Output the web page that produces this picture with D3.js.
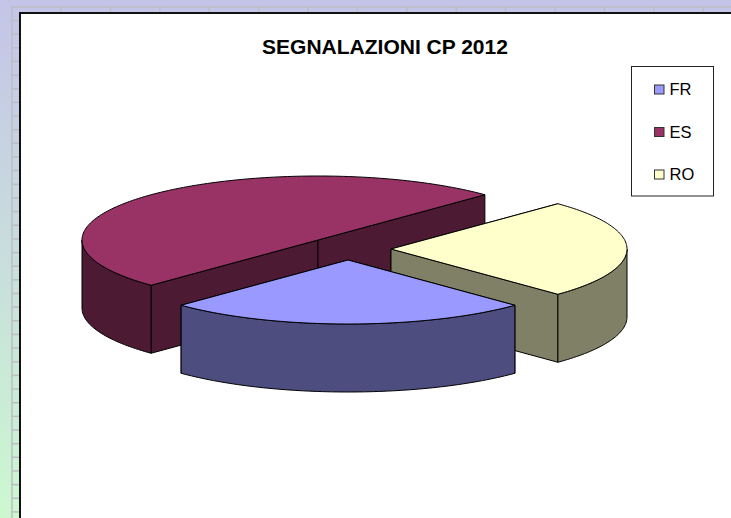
<!DOCTYPE html>
<html lang="it">
<head>
  <meta charset="UTF-8">
  <title>SEGNALAZIONI CP 2012</title>
  <script src="https://d3js.org/d3.v7.min.js"></script>
  <style>
    html, body { margin: 0; padding: 0; overflow: hidden; }
    svg { display: block; }
    text { font-family: 'Liberation Sans', Arial, sans-serif; fill: #000; }
  </style>
</head>
<body>
  <div id="chart"></div>
  <script>
    const title = 'SEGNALAZIONI CP 2012';
    const categories = ['FR', 'ES', 'RO'];
    const values = [25, 50, 25];
    const topColors = ['#9999ff', '#993366', '#ffffcc'];
    const wallColors = ['#4d4d80', '#4d1a33', '#808066'];

    const width = 731, height = 518;
    const rx = 236, ry = 64, depth = 68;
    // centre of each exploded slice
    const centers = [[348, 260], [318, 240], [391, 249]];
    const drawOrder = [1, 2, 0];

    const svg = d3.select('#chart').append('svg').attr('width', width).attr('height', height);

    // sheet behind the chart
    const grad = svg.append('defs').append('linearGradient').attr('id', 'bg')
      .attr('x1', 0).attr('y1', 0).attr('x2', 0).attr('y2', 1);
    grad.append('stop').attr('offset', '0%').attr('stop-color', '#c4c4e8');
    grad.append('stop').attr('offset', '100%').attr('stop-color', '#ccf8d0');
    svg.append('rect').attr('width', width).attr('height', height).attr('fill', 'url(#bg)');

    const grid = svg.append('g').attr('stroke', '#bdbdc4').attr('stroke-width', 1.5).attr('fill', 'none');
    grid.append('path').attr('d', `M${width},7H12V${height}`);
    d3.range(20.5, height, 13.65).forEach(y => {
      grid.append('line').attr('x1', 12).attr('x2', 20).attr('y1', y).attr('y2', y);
    });
    d3.range(61, width, 49.4).forEach(x => {
      grid.append('line').attr('x1', x).attr('x2', x).attr('y1', 7).attr('y2', 13);
    });

    svg.append('rect').attr('x', 20).attr('y', 13).attr('width', width).attr('height', height)
      .attr('fill', '#fff').attr('stroke', '#111').attr('stroke-width', 2);

    svg.append('text').attr('x', 385).attr('y', 54).attr('text-anchor', 'middle')
      .attr('font-size', 21).attr('font-weight', 'bold').text(title);

    // pie
    const slices = d3.pie().sort(null)
      .startAngle(Math.PI * 0.75).endAngle(Math.PI * 2.75)(values);

    const px = (c, a) => c[0] + rx * Math.sin(a);
    const py = (c, a, dz = 0) => c[1] - ry * Math.cos(a) + dz;

    function arcPoints(c, a0, a1, dz) {
      const n = Math.max(2, Math.ceil(Math.abs(a1 - a0) / 0.02));
      return d3.range(n + 1).map(i => {
        const a = a0 + (a1 - a0) * i / n;
        return [px(c, a), py(c, a, dz)];
      });
    }
    const line = d3.line();

    const pie = svg.append('g').attr('stroke', '#000').attr('stroke-width', 1).attr('stroke-linejoin', 'round');

    drawOrder.forEach(i => {
      const c = centers[i], s = slices[i];
      const g = pie.append('g');

      // cut faces
      [s.startAngle, s.endAngle].forEach(a => {
        g.append('path').attr('fill', wallColors[i]).attr('d', line([
          [c[0], c[1]], [px(c, a), py(c, a)], [px(c, a), py(c, a, depth)], [c[0], c[1] + depth]
        ]) + 'Z');
      });

      // outer wall, only the part facing the viewer
      [[Math.PI / 2, Math.PI * 1.5], [Math.PI * 2.5, Math.PI * 3.5]].forEach(([lo, hi]) => {
        const a0 = Math.max(s.startAngle, lo), a1 = Math.min(s.endAngle, hi);
        if (a1 <= a0) return;
        const pts = arcPoints(c, a0, a1, 0).concat(arcPoints(c, a1, a0, depth));
        g.append('path').attr('fill', wallColors[i]).attr('d', line(pts) + 'Z');
      });

      // top
      const top = [[c[0], c[1]]].concat(arcPoints(c, s.startAngle, s.endAngle, 0));
      g.append('path').attr('fill', topColors[i]).attr('d', line(top) + 'Z');
    });

    // legend
    const legend = svg.append('g');
    legend.append('rect').attr('x', 631.5).attr('y', 66.5).attr('width', 82).attr('height', 129.5)
      .attr('fill', '#fff').attr('stroke', '#222').attr('stroke-width', 1);
    const legendY = d3.scalePoint().domain(categories).range([89.5, 174.5]);
    categories.forEach((name, i) => {
      legend.append('rect').attr('x', 654.5).attr('y', legendY(name) - 4.5).attr('width', 9.5).attr('height', 9)
        .attr('fill', topColors[i]).attr('stroke', '#333').attr('stroke-width', 1);
      legend.append('text').attr('x', 669.5).attr('y', legendY(name) + 5.5)
        .attr('font-size', 16.5).text(name);
    });
  </script>
</body>
</html>
